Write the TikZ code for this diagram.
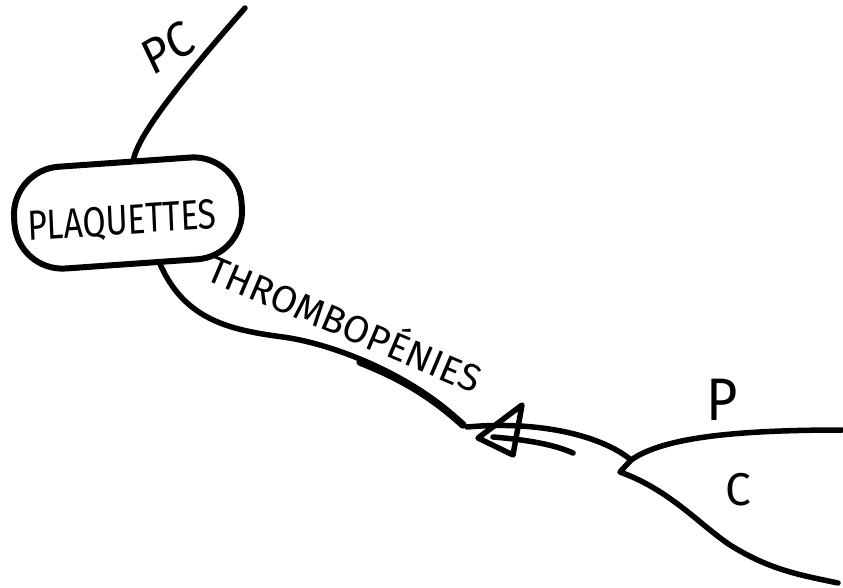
\documentclass[tikz,border=0pt]{standalone}
\usepackage{fontspec}
\setmainfont{Fira Sans}
\usetikzlibrary{arrows.meta}
\begin{document}
\begin{tikzpicture}[x=1pt,y=-1pt,line cap=round,line join=round,
  stroke/.style={line width=5.5pt},
  lbl/.style={inner sep=0pt,font=\fontsize{#1}{#1}\selectfont}]
\useasboundingbox (0,0) rectangle (843,588);
% central node
\node[draw,line width=6pt,rounded corners=48pt,minimum width=228pt,minimum height=102pt,rotate=4,inner sep=0pt] (plaq) at (128,213) {};
\node[lbl=42,xscale=0.8,rotate=3] (plaqtxt) at (122,222) {PLAQUETTES};
% PC branch
\coordinate (pcend) at (245,8);
\draw[stroke] (plaq.80) .. controls (140,130) and (195,65) .. (pcend);
\node[lbl=50,xscale=0.9,rotate=28] (pc) at (168,48) {PC};
% thrombopenies branch
\coordinate (tend) at (463,425);
\draw[stroke] (plaq.-62) .. controls (185,320) and (230,330) .. (283,337) .. controls (340,345) and (420,380) .. (tend);
\draw[line width=7.5pt] (360,362) .. controls (400,378) and (430,395) .. (tend);
\node[lbl=38,rotate=-23] (thr) at (346,321) {THROMBOPÉNIES};
% junction and arrow
\coordinate (J) at (631,460);
\coordinate (aend) at (467,427);
\draw[stroke] (J) .. controls (605,438) and (545,420) .. (aend);
\coordinate (a1) at (522,405);
\coordinate (a2) at (478,438);
\coordinate (a3) at (513,455);
\draw[stroke] (a1) -- (a2) -- (a3) -- cycle;
\coordinate (s1) at (493,437);
\coordinate (s2) at (573,453);
\draw[stroke] (s1) .. controls (530,440) and (555,445) .. (s2);
% P and C branches
\coordinate (pend) at (842,430);
\coordinate (cend) at (838,583);
\coordinate (K) at (620,472);
\draw[stroke] (J) .. controls (660,440) and (720,430) .. (pend);
\draw[stroke] (J) -- (K) .. controls (670,490) and (700,525) .. (730,545) .. controls (770,570) and (800,575) .. (cend);
\node[lbl=60,xscale=0.9] (p) at (722,400) {P};
\node[lbl=46] (c) at (738,490) {C};
\end{tikzpicture}
\end{document}
